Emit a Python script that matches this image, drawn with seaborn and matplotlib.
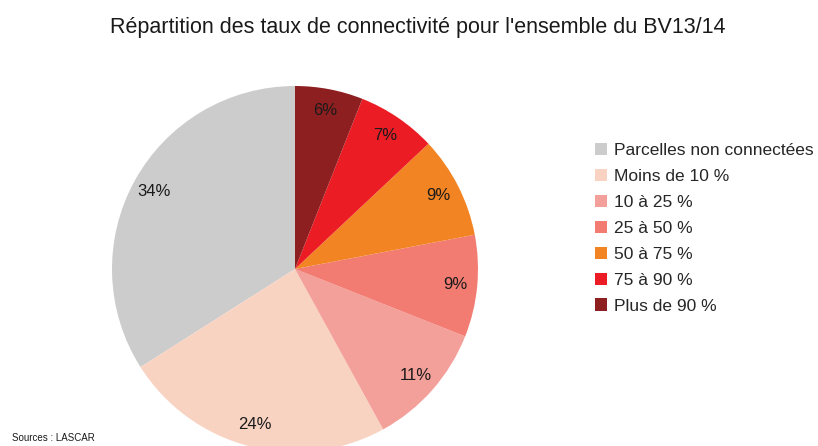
import seaborn as sns
import matplotlib.pyplot as plt

categories = [
    'Parcelles non connectées',
    'Moins de 10 %',
    '10 à 25 %',
    '25 à 50 %',
    '50 à 75 %',
    '75 à 90 %',
    'Plus de 90 %',
]
shares = [34, 24, 11, 9, 9, 7, 6]
colors = ['#cccccc', '#f9d3c2', '#f4a09a', '#f37c72', '#f28423', '#ec1c24', '#8e1f20']

sns.set_theme(style='white')
plt.rcParams['font.family'] = ['Liberation Sans', 'DejaVu Sans']

fig = plt.figure(figsize=(8.18, 4.46), dpi=100)
ax = fig.add_axes([112 / 818, -6 / 446, 366 / 818, 366 / 446])

palette = sns.color_palette(colors)
wedges, texts, autotexts = ax.pie(shares,
                                  colors=palette,
                                  startangle=90,
                                  counterclock=True,
                                  autopct='%d%%',
                                  pctdistance=0.88,
                                  textprops=dict(fontsize=12, color='#1a1a1a'),
                                  wedgeprops=dict(linewidth=0))
ax.set_xlim(-1, 1)
ax.set_ylim(-1, 1)
ax.set_aspect('equal')
ax.axis('off')

fig.text(418 / 818, 1 - 27 / 446, "Répartition des taux de connectivité pour l'ensemble du BV13/14",
         ha='center', va='center', fontsize=15.5, color='#1a1a1a')

fig.legend(wedges, categories,
           loc='upper left',
           bbox_to_anchor=(588 / 818, 1 - 136 / 446),
           frameon=False,
           fontsize=12.5,
           handlelength=0.7,
           handleheight=0.7,
           handletextpad=0.4,
           labelspacing=0.62,
           borderaxespad=0)

fig.text(12 / 818, 1 - 438 / 446, 'Sources : LASCAR', ha='left', va='center',
         fontsize=7, color='#1a1a1a')

plt.savefig('out.png', dpi=100)
